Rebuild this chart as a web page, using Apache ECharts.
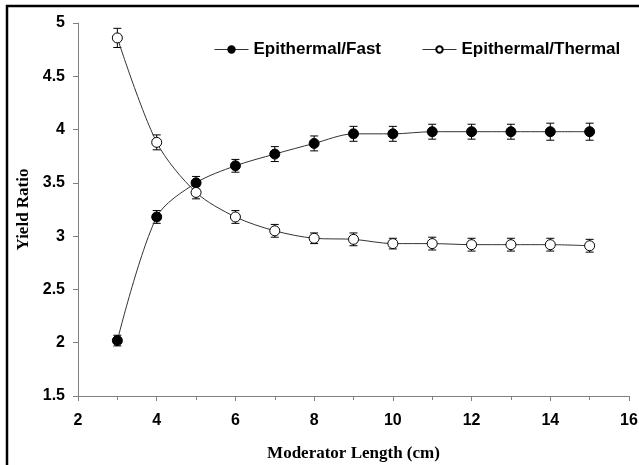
<!DOCTYPE html>
<html>
<head>
<meta charset="utf-8">
<script src="https://cdn.jsdelivr.net/npm/echarts@6/dist/echarts.min.js"></script>
<style>
  html, body { margin: 0; padding: 0; background: #fff; }
  #box { width: 639px; height: 465px; }
</style>
</head>
<body>
<div id="box"></div>
<script>
// moderator length (cm)
let lengths = [3, 4, 5, 6, 7, 8, 9, 10, 11, 12, 13, 14, 15]
// yield ratios
let fastRatio = [2.02, 3.18, 3.50, 3.66, 3.77, 3.87, 3.96, 3.96, 3.98, 3.98, 3.98, 3.98, 3.98]
let fastErr = [0.05, 0.06, 0.06, 0.06, 0.07, 0.07, 0.07, 0.07, 0.07, 0.07, 0.07, 0.08, 0.08]
let thermalRatio = [4.86, 3.88, 3.41, 3.18, 3.05, 2.98, 2.97, 2.93, 2.93, 2.92, 2.92, 2.92, 2.91]
let thermalErr = [0.09, 0.07, 0.06, 0.06, 0.06, 0.05, 0.06, 0.05, 0.06, 0.06, 0.06, 0.06, 0.06]

let pairs = function(ys) {
	return lengths.map(function(x, i) { return [x, ys[i]] })
}
let bars = function(ys, es) {
	return lengths.map(function(x, i) { return [x, ys[i] - es[i], ys[i] + es[i]] })
}

let errorItem = function(params, api) {
	let x = api.value(0)
	let lo = api.coord([x, api.value(1)])
	let hi = api.coord([x, api.value(2)])
	let w = 4
	let st = { stroke: '#000', lineWidth: 1 }
	return {
		type: 'group',
		children: [
			{ type: 'line', shape: { x1: lo[0], y1: lo[1], x2: hi[0], y2: hi[1] }, style: st },
			{ type: 'line', shape: { x1: lo[0] - w, y1: lo[1], x2: lo[0] + w, y2: lo[1] }, style: st },
			{ type: 'line', shape: { x1: hi[0] - w, y1: hi[1], x2: hi[0] + w, y2: hi[1] }, style: st }
		]
	}
}

let app = echarts.init(document.getElementById('box'))

let legendText = {
	fontFamily: 'Arial, "Liberation Sans", sans-serif',
	fontWeight: 'bold',
	fontSize: 17,
	color: '#000'
}

let option = {
	animation: false,
	backgroundColor: '#fff',
	graphic: [{
		type: 'rect',
		shape: { x: 7, y: 6, width: 800, height: 600 },
		style: { fill: 'none', stroke: '#000', lineWidth: 2.5 },
		silent: true
	}],
	legend: [{
		data: ['Epithermal/Fast'],
		left: 209,
		top: 36,
		itemWidth: 34,
		itemHeight: 8,
		lineStyle: { width: 1 },
		textStyle: legendText
	}, {
		data: ['Epithermal/Thermal'],
		left: 417,
		top: 36,
		itemWidth: 34,
		itemHeight: 8,
		lineStyle: { width: 1 },
		textStyle: legendText
	}],
	grid: {
		left: 78,
		right: 10,
		top: 23,
		bottom: 69,
		outerBoundsMode: 'none'
	},
	xAxis: {
		type: 'value',
		min: 2,
		max: 16,
		interval: 2,
		name: 'Moderator Length (cm)',
		nameLocation: 'middle',
		nameGap: 49,
		nameTextStyle: {
			fontFamily: '"Times New Roman", "Liberation Serif", serif',
			fontWeight: 'bold',
			fontSize: 17,
			color: '#000'
		},
		axisLine: { lineStyle: { color: '#808080', width: 1 } },
		axisTick: { inside: false, length: 5, lineStyle: { color: '#808080' } },
		minorTick: { show: true, splitNumber: 2, length: 4, lineStyle: { color: '#808080' } },
		axisLabel: {
			margin: 17,
			fontFamily: 'Arial, "Liberation Sans", sans-serif',
			fontWeight: 'bold',
			fontSize: 16,
			color: '#000'
		},
		splitLine: { show: false }
	},
	yAxis: {
		type: 'value',
		min: 1.5,
		max: 5,
		interval: 0.5,
		name: 'Yield Ratio',
		nameLocation: 'middle',
		nameGap: 44,
		nameTextStyle: {
			fontFamily: '"Times New Roman", "Liberation Serif", serif',
			fontWeight: 'bold',
			fontSize: 17,
			color: '#000'
		},
		axisLine: { show: true, lineStyle: { color: '#808080', width: 1 } },
		axisTick: { show: true, inside: false, length: 5, lineStyle: { color: '#808080' } },
		axisLabel: {
			margin: 13,
			fontFamily: 'Arial, "Liberation Sans", sans-serif',
			fontWeight: 'bold',
			fontSize: 16,
			color: '#000'
		},
		splitLine: { show: false }
	},
	series: [{
		type: 'custom',
		renderItem: errorItem,
		data: bars(fastRatio, fastErr),
		encode: { x: 0, y: [1, 2] },
		z: 1,
		silent: true
	}, {
		type: 'custom',
		renderItem: errorItem,
		data: bars(thermalRatio, thermalErr),
		encode: { x: 0, y: [1, 2] },
		z: 1,
		silent: true
	}, {
		name: 'Epithermal/Fast',
		type: 'line',
		data: pairs(fastRatio),
		smooth: 0.3,
		symbol: 'circle',
		symbolSize: 10,
		showAllSymbol: true,
		lineStyle: { color: '#333', width: 1 },
		itemStyle: { color: '#000', borderColor: '#000', borderWidth: 1 },
		z: 3
	}, {
		name: 'Epithermal/Thermal',
		type: 'line',
		data: pairs(thermalRatio),
		smooth: 0.3,
		symbol: 'circle',
		symbolSize: 10,
		showAllSymbol: true,
		lineStyle: { color: '#333', width: 1 },
		itemStyle: { color: '#fff', borderColor: '#000', borderWidth: 1 },
		z: 3
	}]
}

app.setOption(option)
</script>
</body>
</html>
